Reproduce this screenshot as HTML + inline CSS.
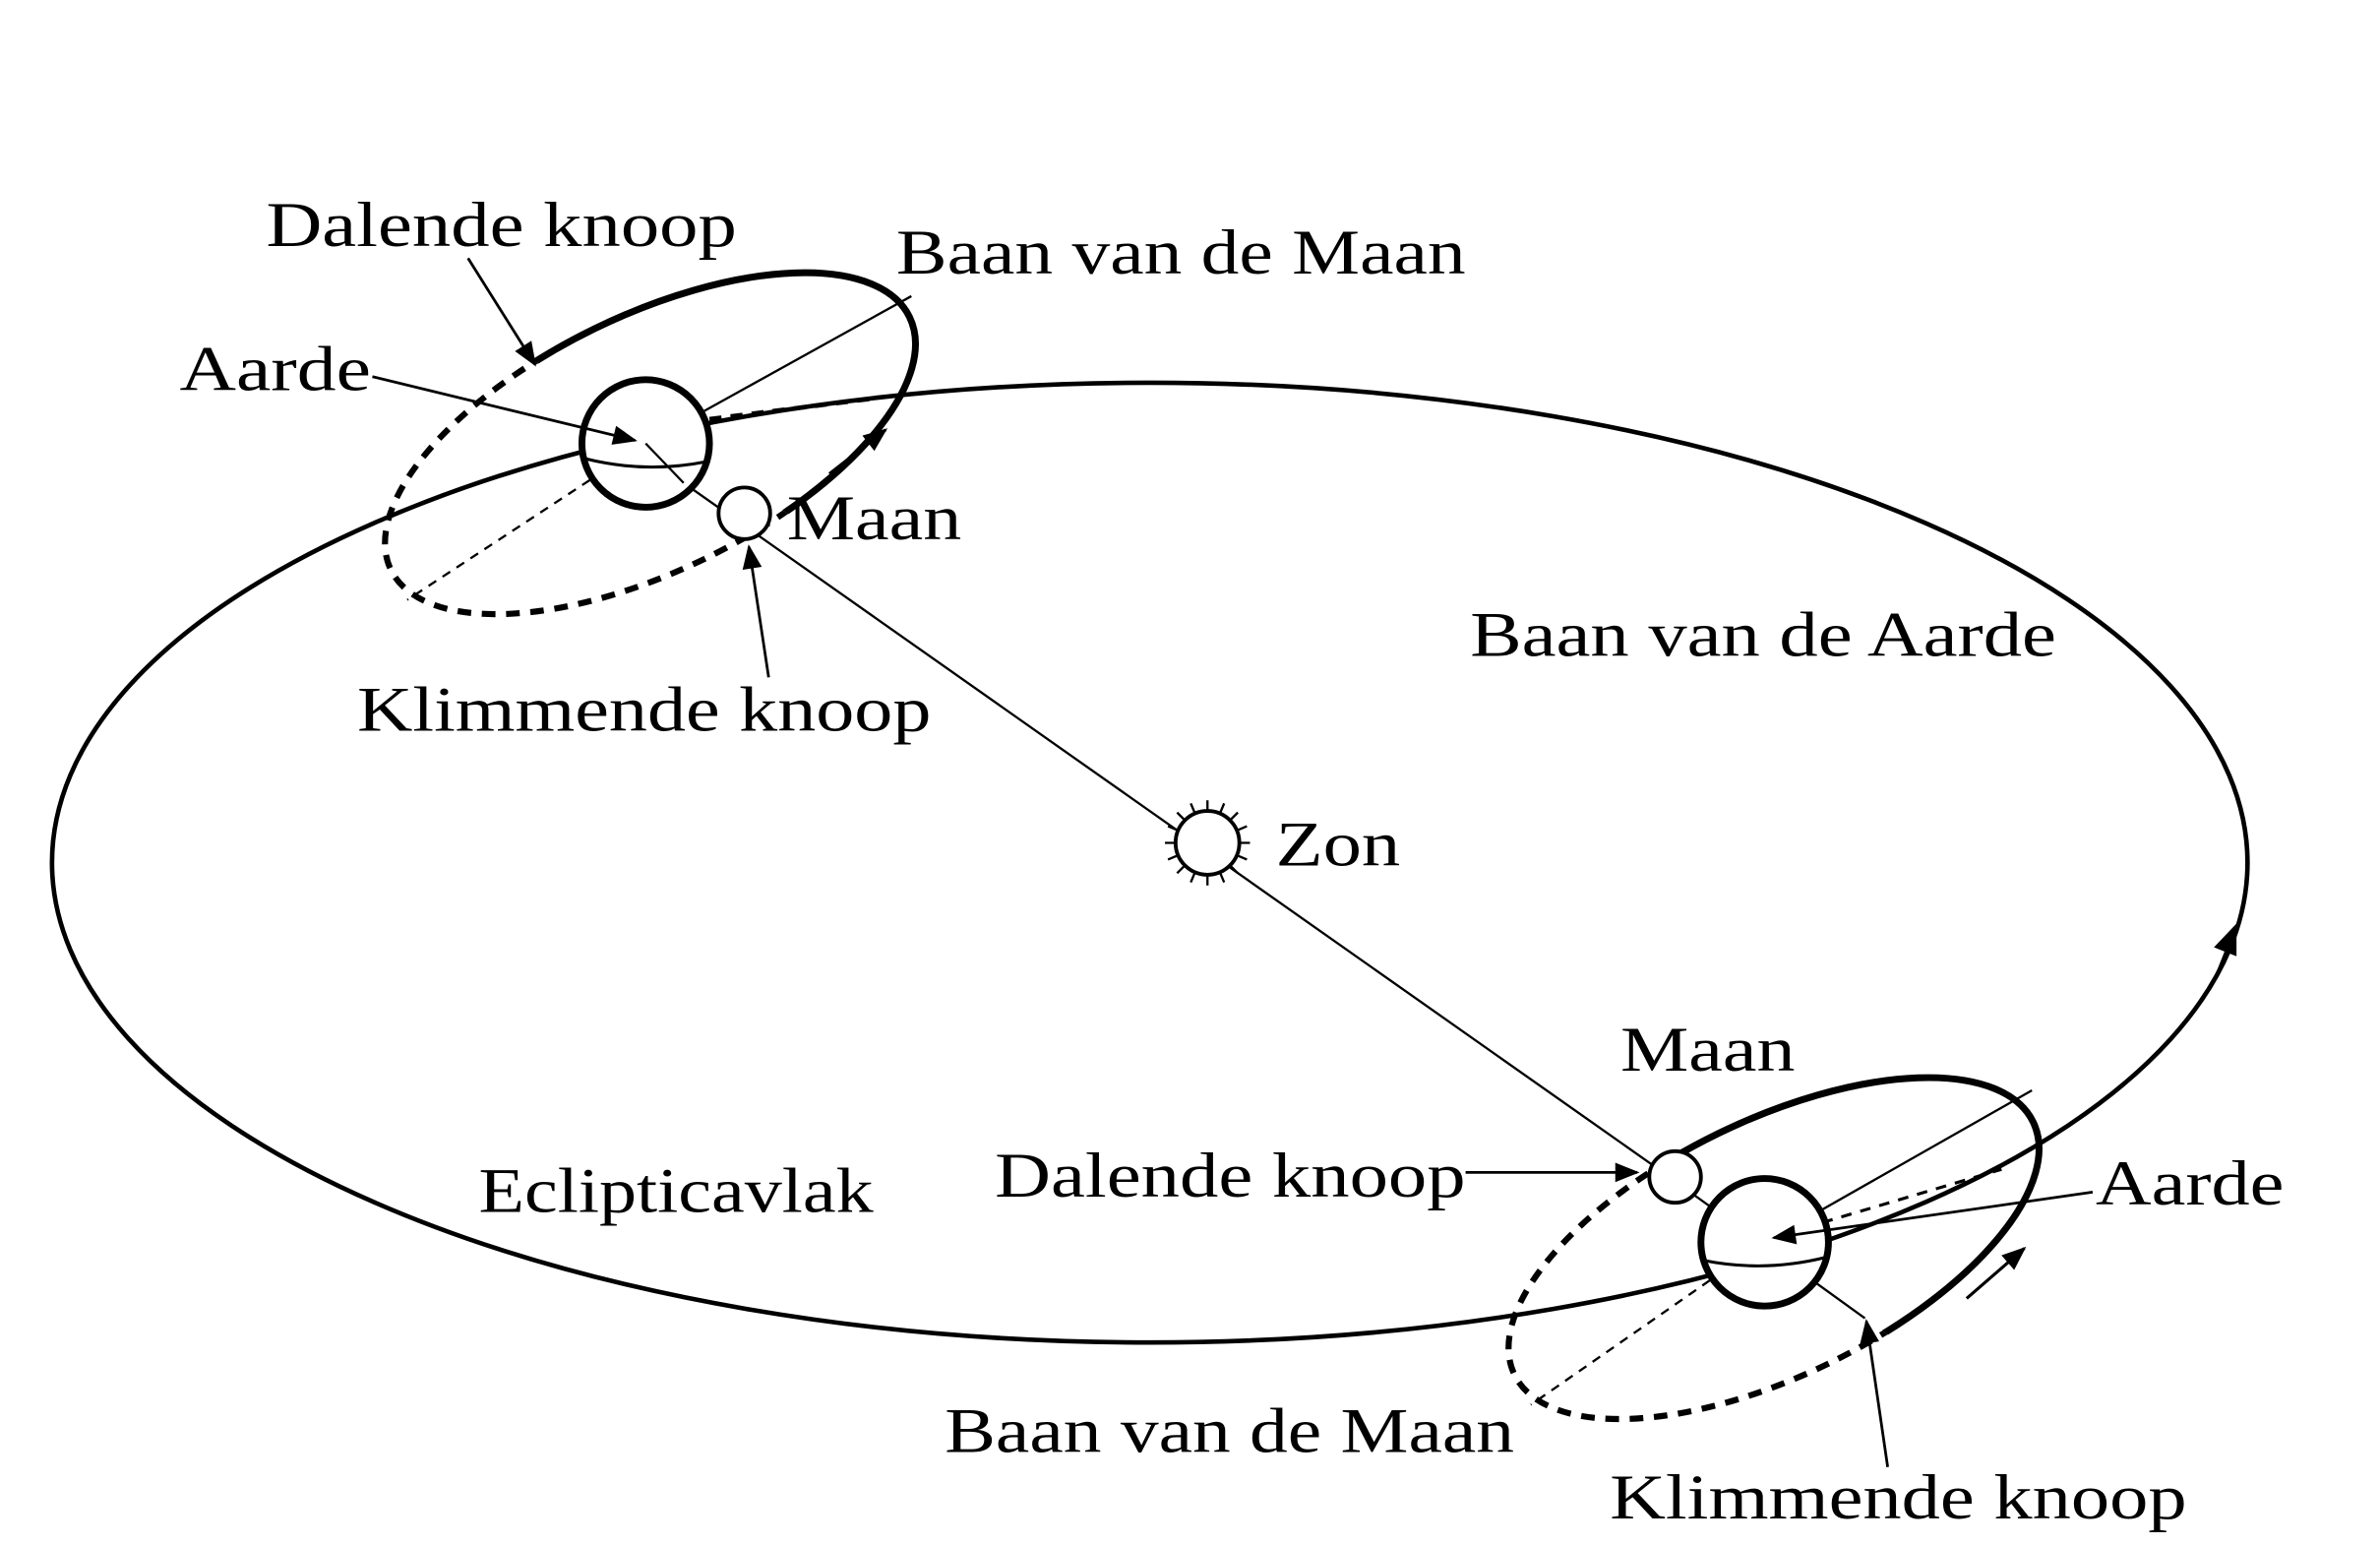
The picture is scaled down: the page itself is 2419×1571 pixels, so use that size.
<!DOCTYPE html>
<html><head><meta charset="utf-8"><style>
html,body{margin:0;padding:0;background:#fff;}
svg{display:block;}
text{font-family:"Liberation Serif",serif;font-size:42px;fill:#000;}
</style></head><body>
<svg width="2419" height="1571" viewBox="0 0 1567 1018" xmlns="http://www.w3.org/2000/svg">
<defs>
<marker id="ah2" viewBox="0 0 10 10" refX="9" refY="5" markerWidth="22" markerHeight="16" orient="auto" markerUnits="userSpaceOnUse">
<path d="M0,1 L10,5 L0,9 z" fill="#000"/></marker>
<marker id="ahm" viewBox="0 0 10 10" refX="9" refY="5" markerWidth="26" markerHeight="20" orient="auto" markerUnits="userSpaceOnUse">
<path d="M0,1 L10,5 L0,9 z" fill="#000"/></marker>
<clipPath id="upA"><polygon points="40,0 40,49 350,237 505,330 850,537 850,0"/></clipPath>
<clipPath id="upB"><polygon points="40,49 350,237 505,330 850,537 850,800 0,800 0,49"/></clipPath>
<clipPath id="loA"><polygon points="889,625 1454,1030 1600,1030 1600,400 889,400"/></clipPath>
<clipPath id="loB"><polygon points="889,625 1454,1030 800,1030 800,625"/></clipPath>
</defs>
<!-- main orbit -->
<ellipse cx="757" cy="568" rx="723" ry="316" fill="none" stroke="#000" stroke-width="3"/>
<path d="M1460,640 L1472,610" stroke="#000" stroke-width="1" marker-end="url(#ahm)"/>

<!-- upper moon orbit -->
<line x1="425" y1="292" x2="600" y2="195" stroke="#000" stroke-width="1.5"/>
<line x1="425" y1="292" x2="268" y2="395" stroke="#000" stroke-width="1.5" stroke-dasharray="6,5"/>
<line x1="467" y1="276" x2="578" y2="262" stroke="#000" stroke-width="3" stroke-dasharray="8,6"/>
<g clip-path="url(#upB)"><ellipse cx="428" cy="292" rx="190" ry="84" transform="rotate(-26 428 292)" fill="none" stroke="#000" stroke-width="4" stroke-dasharray="9,7"/></g>
<g clip-path="url(#upA)"><ellipse cx="428" cy="292" rx="190" ry="84" transform="rotate(-26 428 292)" fill="none" stroke="#000" stroke-width="4.5"/></g>
<line x1="450" y1="318" x2="1088" y2="767" stroke="#000" stroke-width="1.5"/>
<circle cx="425" cy="292" r="42" fill="#fff" stroke="#000" stroke-width="4.5"/>
<path d="M385,302 Q425,312 465,304" fill="none" stroke="#000" stroke-width="2"/>
<line x1="425" y1="292" x2="450" y2="318" stroke="#000" stroke-width="1.5"/>
<circle cx="490" cy="338" r="17" fill="#fff" stroke="#000" stroke-width="2.5"/>
<line x1="546" y1="312" x2="583" y2="283" stroke="#000" stroke-width="2" marker-end="url(#ah2)"/>

<!-- sun -->
<g stroke="#000" stroke-width="1.5">
<line x1="795" y1="527" x2="795" y2="583"/><line x1="767" y1="555" x2="823" y2="555"/>
<line x1="775" y1="535" x2="815" y2="575"/><line x1="815" y1="535" x2="775" y2="575"/>
<line x1="784" y1="529" x2="806" y2="581"/><line x1="806" y1="529" x2="784" y2="581"/>
<line x1="769" y1="544" x2="821" y2="566"/><line x1="769" y1="566" x2="821" y2="544"/>
</g>
<circle cx="795" cy="555" r="21" fill="#fff" stroke="#000" stroke-width="2.5"/>

<!-- lower moon orbit -->
<line x1="1162" y1="818" x2="1338" y2="718" stroke="#000" stroke-width="1.5"/>
<line x1="1162" y1="818" x2="1008" y2="925" stroke="#000" stroke-width="1.5" stroke-dasharray="6,5"/>
<line x1="1200" y1="805" x2="1318" y2="770" stroke="#000" stroke-width="2" stroke-dasharray="7,6"/>
<g clip-path="url(#loB)"><ellipse cx="1168" cy="822" rx="190" ry="84" transform="rotate(-26 1168 822)" fill="none" stroke="#000" stroke-width="4" stroke-dasharray="9,7"/></g>
<g clip-path="url(#loA)"><ellipse cx="1168" cy="822" rx="190" ry="84" transform="rotate(-26 1168 822)" fill="none" stroke="#000" stroke-width="4.5"/></g>
<line x1="1088" y1="767" x2="1228" y2="868" stroke="#000" stroke-width="1.5"/>
<circle cx="1162" cy="818" r="42" fill="#fff" stroke="#000" stroke-width="4.5"/>
<path d="M1122,830 Q1162,838 1202,828" fill="none" stroke="#000" stroke-width="2"/>
<circle cx="1103" cy="775" r="17" fill="#fff" stroke="#000" stroke-width="2.5"/>
<line x1="1295" y1="855" x2="1333" y2="822" stroke="#000" stroke-width="2" marker-end="url(#ah2)"/>

<!-- pointer lines -->
<g stroke="#000" stroke-width="1.8" fill="none">
<line x1="308" y1="170" x2="352" y2="240" marker-end="url(#ah2)"/>
<line x1="245" y1="248" x2="418" y2="290" marker-end="url(#ah2)"/>
<line x1="506" y1="446" x2="493" y2="360" marker-end="url(#ah2)"/>
<line x1="965" y1="772" x2="1078" y2="772" marker-end="url(#ah2)"/>
<line x1="1378" y1="785" x2="1168" y2="815" marker-end="url(#ah2)"/>
<line x1="1243" y1="966" x2="1229" y2="870" marker-end="url(#ah2)"/>
</g>

<!-- labels -->
<text x="175" y="162" textLength="310" lengthAdjust="spacingAndGlyphs">Dalende knoop</text>
<text x="590" y="180" textLength="375" lengthAdjust="spacingAndGlyphs">Baan van de Maan</text>
<text x="118" y="257" textLength="126" lengthAdjust="spacingAndGlyphs">Aarde</text>
<text x="518" y="355" textLength="115" lengthAdjust="spacingAndGlyphs">Maan</text>
<text x="235" y="481" textLength="378" lengthAdjust="spacingAndGlyphs">Klimmende knoop</text>
<text x="968" y="432" textLength="386" lengthAdjust="spacingAndGlyphs">Baan van de Aarde</text>
<text x="840" y="570" textLength="82" lengthAdjust="spacingAndGlyphs">Zon</text>
<text x="1067" y="705" textLength="115" lengthAdjust="spacingAndGlyphs">Maan</text>
<text x="655" y="788" textLength="310" lengthAdjust="spacingAndGlyphs">Dalende knoop</text>
<text x="315" y="798" textLength="260" lengthAdjust="spacingAndGlyphs">Eclipticavlak</text>
<text x="1380" y="793" textLength="124" lengthAdjust="spacingAndGlyphs">Aarde</text>
<text x="622" y="956" textLength="375" lengthAdjust="spacingAndGlyphs">Baan van de Maan</text>
<text x="1060" y="1000" textLength="380" lengthAdjust="spacingAndGlyphs">Klimmende knoop</text>
</svg>
</body></html>
